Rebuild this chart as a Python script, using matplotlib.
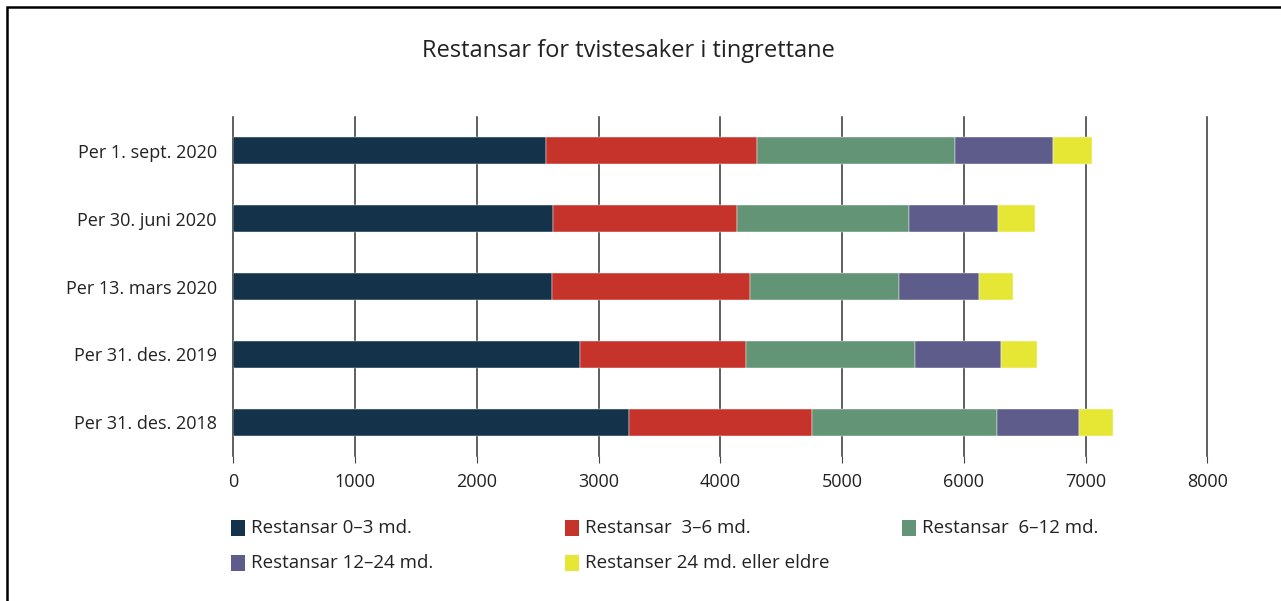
"""
Restansar for tvistesaker i tingrettane: stacked horizontal bars by age of case.
"""

import matplotlib.pyplot as plt
import numpy as np
from matplotlib.patches import Rectangle

plt.rcParams["font.family"] = ["Open Sans", "DejaVu Sans"]

# rows from top to bottom
periods = [
    "Per 1. sept. 2020",
    "Per 30. juni 2020",
    "Per 13. mars 2020",
    "Per 31. des. 2019",
    "Per 31. des. 2018",
]
r_0_3 = [2568, 2626, 2618, 2848, 3250]
r_3_6 = [1736, 1511, 1626, 1366, 1506]
r_6_12 = [1621, 1413, 1221, 1385, 1514]
r_12_24 = [808, 731, 657, 704, 676]
r_24_plus = [317, 304, 280, 296, 277]

series_labels = [
    "Restansar 0–3 md.",
    "Restansar  3–6 md.",
    "Restansar  6–12 md.",
    "Restansar 12–24 md.",
    "Restanser 24 md. eller eldre",
]
colors = ["#14334b", "#c6332a", "#639476", "#5e5c8a", "#e6e634"]
xticks = [0, 1000, 2000, 3000, 4000, 5000, 6000, 7000, 8000]

W, H = 1281, 601
fig = plt.figure(figsize=(W / 100, H / 100), dpi=100)
# axes placed in pixel coordinates of the reference
left, right, top, bottom = 233.3, 1207.3, 116.8, 456.3
ax = fig.add_axes([left / W, 1 - bottom / H, (right - left) / W, (bottom - top) / H])

y = np.arange(len(periods))
start = np.zeros(len(periods))
for vals, lab, col in zip([r_0_3, r_3_6, r_6_12, r_12_24, r_24_plus], series_labels, colors):
    ax.barh(y, vals, left=start, height=0.4, color=col, label=lab, zorder=3,
            edgecolor="white", linewidth=0.3)
    start = start + np.array(vals)

ax.set_xlim(0, 8000)
ax.set_ylim(len(periods) - 0.5, -0.5)
ax.set_yticks(y)
ax.set_yticklabels(periods, fontsize=13, color="#222222")
ax.set_xticks(xticks)
ax.set_xticklabels([str(t) for t in xticks], fontsize=13, color="#222222")
ax.tick_params(axis="y", length=0, pad=12)
ax.tick_params(axis="x", length=5, width=0.8, color="#444444", pad=7)
for t in xticks:
    ax.axvline(t, color="#333333", linewidth=1.1, zorder=0, clip_on=False)
for side in ["top", "right", "bottom", "left"]:
    ax.spines[side].set_visible(False)

fig.text(628 / W, 1 - 51 / H, "Restansar for tvistesaker i tingrettane",
         ha="center", va="center", fontsize=17, color="#222222")

# legend: two rows, three columns, drawn at fixed positions
legend_pos = [(231, 528), (565, 528), (902, 528), (231, 563), (565, 563)]
for (px, py), lab, col in zip(legend_pos, series_labels, colors):
    fig.patches.append(Rectangle((px / W, 1 - (py + 8) / H), 14 / W, 16 / H,
                                 transform=fig.transFigure, facecolor=col,
                                 edgecolor="none"))
    fig.text((px + 20) / W, 1 - py / H, lab, ha="left", va="center",
             fontsize=13.5, color="#222222")

# frame around the figure (left and top visible)
fig.patches.append(Rectangle((6.5 / W, -0.1), 1.2, 1 - 6.5 / H + 0.1,
                             transform=fig.transFigure, fill=False,
                             edgecolor="black", linewidth=1.8))

fig.savefig("out.png", dpi=100)
